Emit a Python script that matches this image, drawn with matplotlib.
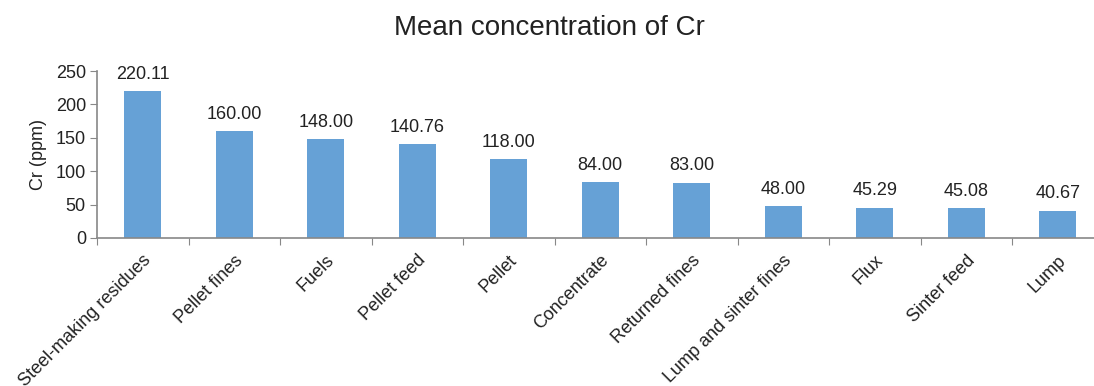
import matplotlib
matplotlib.use("Agg")
import matplotlib.pyplot as plt
import numpy as np

categories = ["Steel-making residues", "Pellet fines", "Fuels", "Pellet feed", "Pellet",
              "Concentrate", "Returned fines", "Lump and sinter fines", "Flux",
              "Sinter feed", "Lump"]
values = [220.11, 160.00, 148.00, 140.76, 118.00, 84.00, 83.00, 48.00, 45.29, 45.08, 40.67]

plt.rcParams["font.family"] = ["Liberation Sans", "DejaVu Sans"]

W, H = 1094, 386
fig = plt.figure(figsize=(W / 100, H / 100), dpi=100)
left, right, bottom, top = 97, 1103.5, 238, 71
ax = fig.add_axes([left / W, (H - bottom) / H, (right - left) / W, (bottom - top) / H])

x = np.arange(len(categories))
bar_color = "#66a1d6"
ax.bar(x, values, width=0.4, color=bar_color, zorder=2)

for xi, v in zip(x, values):
    ax.annotate(f"{v:.2f}", (xi, v), xytext=(0, 6), textcoords="offset points",
                ha="center", va="bottom", fontsize=13, color="#222222")

ax.set_xlim(-0.5, len(categories) - 0.5)
ax.set_ylim(0, 250)
ax.set_yticks(np.arange(0, 251, 50))
ax.tick_params(axis="y", labelsize=13, length=5, color="#888888", labelcolor="#222222", pad=3)

# ticks on category boundaries, labels at category centres
ax.set_xticks(np.arange(-0.5, len(categories), 1.0))
ax.set_xticklabels([])
ax.set_xticks(x, minor=True)
ax.set_xticklabels(categories, minor=True, rotation=45, ha="right", rotation_mode="anchor",
                   fontsize=13, color="#222222")
ax.tick_params(axis="x", which="major", length=5, color="#888888", direction="out")
ax.tick_params(axis="x", which="minor", length=0, pad=10)

for s in ["top", "right"]:
    ax.spines[s].set_visible(False)
for s in ["left", "bottom"]:
    ax.spines[s].set_color("#888888")
    ax.spines[s].set_linewidth(1.2)

ax.set_ylabel("Cr (ppm)", fontsize=13, color="#222222", labelpad=6)
fig.text(549 / W, 1 - 28 / H, "Mean concentration of Cr", ha="center", va="center",
         fontsize=20, color="#222222")

fig.savefig("out.png", dpi=100)
